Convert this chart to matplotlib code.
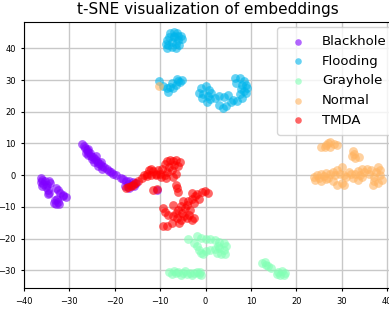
import numpy as np
import matplotlib
matplotlib.use("Agg")
import matplotlib.pyplot as plt

labels = ["Blackhole", "Flooding", "Grayhole", "Normal", "TMDA"]

# points (t-SNE coordinates)
blackhole = np.array([
    (-36.2, -0.8), (-36.0, -1.5), (-36.3, -2.2), (-35.8, -2.8), (-36.0, -3.3),
    (-35.3, -2.0), (-35.0, -3.0), (-34.5, -1.8), (-34.2, -2.5), (-35.2, -3.8),
    (-34.8, -4.8), (-34.5, -5.5), (-34.8, -6.0), (-33.0, -4.2), (-32.5, -4.8),
    (-32.0, -5.5), (-31.5, -6.2), (-30.8, -7.0), (-31.3, -6.5), (-33.2, -7.8),
    (-32.6, -8.5), (-33.0, -9.2), (-32.3, -9.0), (-33.5, -8.8), (-32.8, -7.6),
    (-27.2, 9.9), (-26.8, 9.3), (-26.5, 8.6), (-26.2, 8.0), (-26.0, 7.4),
    (-25.5, 7.0), (-25.8, 6.5), (-25.2, 6.2), (-24.8, 5.8), (-25.0, 5.0),
    (-24.4, 5.2), (-24.0, 4.5), (-24.5, 4.0), (-23.6, 3.8), (-23.2, 3.4),
    (-23.8, 3.0), (-22.8, 2.8), (-22.3, 2.5), (-22.8, 2.0), (-21.8, 1.9),
    (-21.3, 1.3), (-20.8, 1.0), (-20.3, 0.5), (-19.8, 0.1), (-26.3, 7.0),
    (-25.8, 8.2), (-24.2, 6.0), (-23.0, 4.3),
    (-18.6, -0.8), (-18.3, -1.2), (-17.5, -1.8), (-16.8, -2.0), (-16.0, -2.2),
    (-15.3, -2.5), (-17.2, -2.8), (-16.5, -3.2), (-17.8, -3.5), (-15.8, -3.5),
    (-16.8, -4.0), (-10.8, -4.6),
])

flooding = np.array([
    (-7.8, 44.8), (-7.0, 45.2), (-6.2, 44.8), (-5.5, 44.0), (-5.3, 43.0),
    (-6.0, 42.5), (-7.0, 43.5), (-8.0, 43.5), (-8.5, 42.5), (-7.5, 42.0),
    (-6.5, 41.5), (-8.2, 41.0), (-7.5, 40.5), (-8.5, 40.0), (-6.5, 40.2),
    (-5.8, 41.0), (-7.0, 44.0), (-6.0, 43.8), (-8.8, 41.5),
    (-10.3, 29.7), (-9.4, 28.0), (-8.6, 27.6), (-7.8, 27.8), (-8.2, 26.1),
    (-7.1, 27.4), (-6.6, 28.5), (-6.0, 29.7), (-5.3, 30.0), (-6.3, 30.2),
    (-7.3, 29.2), (-5.6, 29.3),
    (-1.0, 27.5), (0.0, 28.0), (0.8, 27.0), (-1.5, 26.0), (-0.5, 25.5),
    (0.5, 25.0), (1.0, 24.0), (-0.8, 24.2), (0.3, 23.2), (1.3, 26.0),
    (2.0, 24.5), (3.0, 25.0), (4.0, 24.8), (5.0, 25.2), (6.0, 23.8),
    (7.0, 23.5), (8.0, 24.5), (3.0, 22.0), (3.8, 21.3), (4.5, 21.8), (5.5, 23.2),
    (6.5, 30.5), (7.5, 30.5), (8.5, 29.8), (9.0, 28.5), (9.2, 27.5),
    (8.5, 26.5), (7.8, 27.2), (8.0, 28.5), (6.8, 29.2), (7.5, 25.5), (8.8, 25.8),
])

grayhole = np.array([
    (-3.8, -20.2), (-2.0, -19.2), (-1.0, -19.8), (0.0, -20.0), (1.0, -20.3),
    (2.0, -20.5), (3.0, -21.0), (4.0, -21.5), (4.6, -22.3), (-2.5, -21.5),
    (-2.0, -22.5), (-1.5, -23.5), (-1.0, -24.5), (0.0, -24.0), (1.0, -23.5),
    (2.0, -23.2), (3.0, -23.0), (4.0, -23.5), (4.3, -24.8), (3.5, -25.0),
    (2.5, -24.5), (-0.5, -25.0), (2.8, -22.4),
    (-8.0, -30.5), (-7.5, -31.2), (-7.0, -30.3), (-6.5, -31.0), (-6.0, -30.5),
    (-5.5, -31.5), (-5.0, -30.8), (-4.5, -30.3), (-4.0, -31.2), (-3.5, -30.8),
    (-3.0, -31.5), (-2.5, -31.0), (-2.0, -30.5), (-1.5, -31.3), (-1.0, -31.5),
    (-1.3, -30.7),
    (12.5, -27.8), (13.2, -28.3), (13.8, -28.8), (14.3, -29.3), (13.0, -27.5),
    (16.0, -30.5), (16.8, -30.2), (17.5, -30.8), (16.3, -31.5), (17.2, -31.6),
    (15.8, -31.2),
])

normal = np.array([
    (-10.2, 28.2),
    (25.5, 9.0), (26.5, 9.5), (27.5, 10.5), (28.3, 9.8), (29.0, 9.6),
    (26.3, 8.8), (27.5, 9.0), (27.0, 10.2),
    (32.5, 7.5), (32.3, 6.0), (33.0, 5.5), (33.8, 5.8), (32.8, 6.8),
    (23.8, -0.5), (24.5, 0.2), (25.0, -1.0), (25.5, 0.5), (26.0, -0.3),
    (26.5, 0.8), (27.0, -0.8), (27.5, 0.3), (28.0, 1.0), (28.5, 0.0),
    (29.0, 1.5), (29.5, 0.5), (30.0, 2.5), (30.5, 0.2), (31.0, -0.5),
    (31.5, 1.0), (32.0, 0.3), (32.5, -0.8), (33.0, 0.5), (33.5, 1.2),
    (34.0, 0.0), (34.5, -0.5), (35.0, 1.0), (35.5, 2.0), (36.0, 0.5),
    (36.5, 1.5), (37.0, -0.5), (37.5, 1.0), (38.0, 2.5), (38.5, 0.0),
    (38.8, -1.5), (38.0, -2.5), (37.2, -2.0), (36.8, -3.0), (38.5, 1.5),
    (28.0, -2.0), (29.0, -3.0), (30.0, -2.5), (30.5, -3.2), (24.2, -1.5),
    (25.5, -1.8), (26.5, -1.2), (33.5, -1.5), (34.5, 1.8),
])

tmda = np.array([
    (-17.2, -3.8), (-16.5, -3.5), (-16.0, -3.0), (-15.5, -2.5), (-14.8, -2.0),
    (-17.5, -4.2),
    (-14.0, -1.0), (-13.5, 0.0), (-13.0, 0.5), (-12.5, 1.5), (-12.0, 1.8),
    (-11.5, 1.2), (-11.0, 0.5), (-12.0, 0.0), (-13.0, -0.3),
    (-10.0, 0.5), (-9.5, 2.0), (-9.0, 3.5), (-8.5, 4.5), (-7.8, 4.8),
    (-7.2, 4.5), (-6.5, 4.8), (-5.6, 4.2), (-6.0, 3.0), (-7.0, 3.2),
    (-8.0, 2.5), (-8.5, 1.0), (-7.5, 1.5), (-9.0, 0.0), (-8.8, -1.0),
    (-7.2, -0.5), (-6.5, 0.5), (-10.5, 1.5), (-9.8, -0.5), (-11.0, 0.0),
    (-11.6, -4.8), (-10.8, -4.3), (-6.5, -3.0), (-6.2, -4.2), (-6.0, -5.2),
    (-0.9, -5.2), (0.6, -5.7), (-0.2, -5.0), (-3.1, -5.7), (-2.3, -6.7),
    (-1.5, -7.5), (-2.5, -8.8), (-3.8, -8.3), (-4.9, -8.3), (-7.1, -9.4),
    (-6.0, -10.9), (-5.3, -12.0), (-4.2, -13.6), (-3.1, -14.1), (-6.4, -13.6),
    (-7.5, -15.1), (-8.6, -16.2), (-9.3, -16.0), (-8.9, -11.5), (-8.2, -12.6),
    (-9.4, -10.3), (-5.5, -14.0), (-3.5, -11.0), (-4.5, -10.5),
    (-1.8, -6.0), (-3.0, -7.5), (-4.2, -9.5), (-5.5, -9.8), (-6.6, -11.8),
    (-7.2, -13.0), (-4.8, -12.8), (-3.6, -12.5), (-2.6, -13.6), (-5.8, -15.0),
])

groups = [blackhole, flooding, grayhole, normal, tmda]
colors = plt.cm.rainbow(np.linspace(0, 1, len(labels)))

fig = plt.figure(figsize=(3.89, 3.11), dpi=100)
ax = fig.add_axes([0.0617, 0.073, 0.9453, 0.856])

for pts, lab, col in zip(groups, labels, colors):
    ax.scatter(pts[:, 0], pts[:, 1], color=col, label=lab, alpha=0.6,
               s=40, linewidths=0)

ax.set_xlim(-40, 41)
ax.set_ylim(-35.7, 48.3)
ax.set_xticks(np.arange(-40, 41, 10))
ax.set_yticks(np.arange(-30, 41, 10))
ax.tick_params(labelsize=6, length=2.5)
ax.grid(True, color="#c8c8c8", linewidth=1)
ax.set_axisbelow(True)
ax.set_title("t-SNE visualization of embeddings", fontsize=11)
ax.legend(loc="upper right", fontsize=9.5, borderpad=0.6,
          bbox_to_anchor=(1.023, 1.0), borderaxespad=0.4, markerscale=0.75)

fig.savefig("out.png", dpi=100)
